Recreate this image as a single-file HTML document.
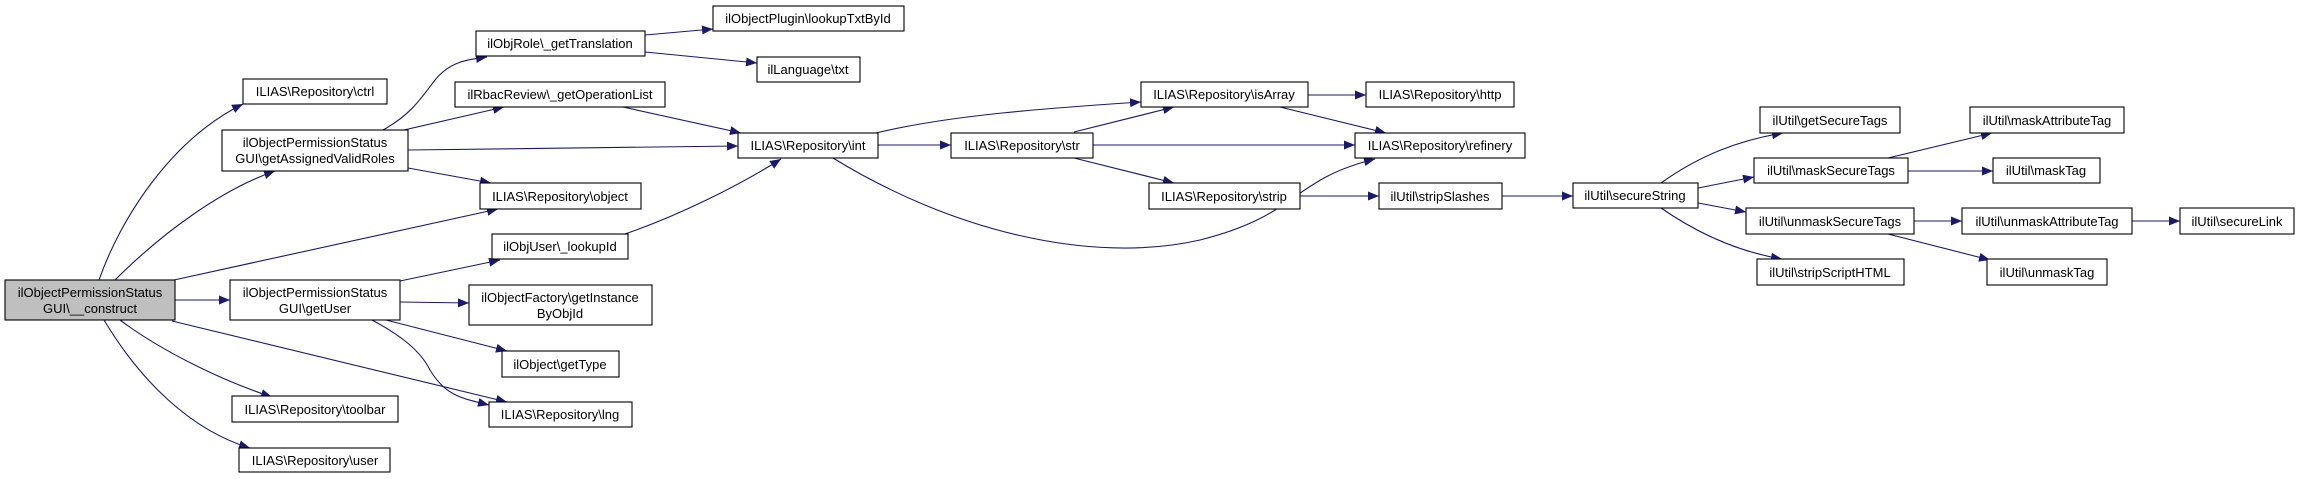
<!DOCTYPE html>
<html><head><meta charset="utf-8"><style>
html,body{margin:0;padding:0;background:#fff;}
svg{display:block;}
text{font-family:"Liberation Sans",Arial,sans-serif;font-size:13px;fill:#000;}
</style></head><body>
<svg width="2300" height="479" viewBox="0 0 2300 479" xmlns="http://www.w3.org/2000/svg">
<defs>
<marker id="a" markerUnits="userSpaceOnUse" markerWidth="12" markerHeight="10" refX="11" refY="4.5" orient="auto">
<path d="M0,0 L11,4.5 L0,9 z" fill="#191970"/>
</marker>
</defs>
<g fill="none" stroke="#191970" stroke-width="1.1" marker-end="url(#a)">
<path d="M99,280 C120,220 170,140 243,104"/>
<path d="M115,280 C160,235 220,190 275,171"/>
<path d="M174,280 L498,209"/>
<path d="M175,300 L230,300"/>
<path d="M172,321 L507,402"/>
<path d="M120,320 C160,350 220,380 272,397"/>
<path d="M104,320 C140,380 190,430 250,448"/>
<path d="M383,130 C410,115 420,100 435,80 C450,62 465,60 487,57"/>
<path d="M404,130 L504,107"/>
<path d="M408,150 L738,146"/>
<path d="M408,168 L491,183"/>
<path d="M645,35 L713,29"/>
<path d="M645,52 L757,63"/>
<path d="M623,107 L741,133"/>
<path d="M625,234 C680,215 740,185 781,159"/>
<path d="M400,281 L500,260"/>
<path d="M400,302 L469,303"/>
<path d="M386,320 L507,351"/>
<path d="M372,320 C400,335 420,350 430,370 C445,395 460,398 489,405"/>
<path d="M876,133 C950,115 1050,108 1141,102"/>
<path d="M878,145 L951,145"/>
<path d="M833,158 C950,230 1090,265 1200,240 C1300,215 1290,180 1375,159"/>
<path d="M1074,132 L1174,107"/>
<path d="M1093,145 L1355,145"/>
<path d="M1074,158 L1174,183"/>
<path d="M1308,95 L1366,95"/>
<path d="M1280,107 L1386,133"/>
<path d="M1300,196 L1379,196"/>
<path d="M1502,196 L1573,196"/>
<path d="M1661,183 C1700,155 1740,140 1783,133"/>
<path d="M1698,188 L1754,177"/>
<path d="M1698,203 L1746,212"/>
<path d="M1661,208 C1700,235 1740,252 1782,259"/>
<path d="M1888,158 L1992,133"/>
<path d="M1908,171 L1993,171"/>
<path d="M1914,221 L1962,221"/>
<path d="M1888,234 L1990,260"/>
<path d="M2132,221 L2180,221"/>
</g>
<g stroke="#000" stroke-width="1.1" fill="#fff">
<rect x="5" y="280" width="170" height="40" fill="#bfbfbf"/>
<rect x="243" y="79" width="144" height="25"/>
<rect x="222" y="130" width="186" height="41"/>
<rect x="230" y="280" width="170" height="40"/>
<rect x="232" y="396" width="166" height="26"/>
<rect x="239" y="448" width="151" height="24"/>
<rect x="476" y="31" width="169" height="25"/>
<rect x="455" y="82" width="210" height="25"/>
<rect x="480" y="183" width="161" height="26"/>
<rect x="492" y="234" width="136" height="25"/>
<rect x="469" y="285" width="183" height="40"/>
<rect x="502" y="351" width="117" height="26"/>
<rect x="489" y="402" width="143" height="25"/>
<rect x="713" y="6" width="191" height="25"/>
<rect x="757" y="57" width="103" height="25"/>
<rect x="738" y="133" width="140" height="25"/>
<rect x="951" y="133" width="142" height="25"/>
<rect x="1141" y="82" width="167" height="25"/>
<rect x="1149" y="183" width="151" height="26"/>
<rect x="1366" y="82" width="148" height="25"/>
<rect x="1355" y="133" width="170" height="25"/>
<rect x="1379" y="183" width="123" height="26"/>
<rect x="1573" y="183" width="125" height="25"/>
<rect x="1760" y="107" width="140" height="26"/>
<rect x="1754" y="158" width="154" height="25"/>
<rect x="1746" y="208" width="168" height="26"/>
<rect x="1757" y="259" width="147" height="26"/>
<rect x="1970" y="107" width="154" height="26"/>
<rect x="1993" y="158" width="107" height="25"/>
<rect x="1962" y="208" width="170" height="26"/>
<rect x="1987" y="259" width="120" height="26"/>
<rect x="2180" y="208" width="114" height="26"/>
</g>
<g text-anchor="middle">
<text x="90" y="297">ilObjectPermissionStatus</text>
<text x="90" y="313">GUI\__construct</text>
<text x="315" y="96">ILIAS\Repository\ctrl</text>
<text x="315" y="147">ilObjectPermissionStatus</text>
<text x="315" y="163">GUI\getAssignedValidRoles</text>
<text x="315" y="297">ilObjectPermissionStatus</text>
<text x="315" y="313">GUI\getUser</text>
<text x="315" y="414">ILIAS\Repository\toolbar</text>
<text x="315" y="465">ILIAS\Repository\user</text>
<text x="560" y="48">ilObjRole\_getTranslation</text>
<text x="560" y="99">ilRbacReview\_getOperationList</text>
<text x="560" y="201">ILIAS\Repository\object</text>
<text x="560" y="251">ilObjUser\_lookupId</text>
<text x="560" y="302">ilObjectFactory\getInstance</text>
<text x="560" y="318">ByObjId</text>
<text x="560" y="369">ilObject\getType</text>
<text x="560" y="419">ILIAS\Repository\lng</text>
<text x="808" y="23">ilObjectPlugin\lookupTxtById</text>
<text x="808" y="74">ilLanguage\txt</text>
<text x="808" y="150">ILIAS\Repository\int</text>
<text x="1022" y="150">ILIAS\Repository\str</text>
<text x="1224" y="99">ILIAS\Repository\isArray</text>
<text x="1224" y="201">ILIAS\Repository\strip</text>
<text x="1440" y="99">ILIAS\Repository\http</text>
<text x="1440" y="150">ILIAS\Repository\refinery</text>
<text x="1440" y="201">ilUtil\stripSlashes</text>
<text x="1635" y="200">ilUtil\secureString</text>
<text x="1830" y="125">ilUtil\getSecureTags</text>
<text x="1831" y="175">ilUtil\maskSecureTags</text>
<text x="1830" y="226">ilUtil\unmaskSecureTags</text>
<text x="1830" y="277">ilUtil\stripScriptHTML</text>
<text x="2047" y="125">ilUtil\maskAttributeTag</text>
<text x="2046" y="175">ilUtil\maskTag</text>
<text x="2047" y="226">ilUtil\unmaskAttributeTag</text>
<text x="2047" y="277">ilUtil\unmaskTag</text>
<text x="2237" y="226">ilUtil\secureLink</text>
</g>
</svg>
</body></html>
